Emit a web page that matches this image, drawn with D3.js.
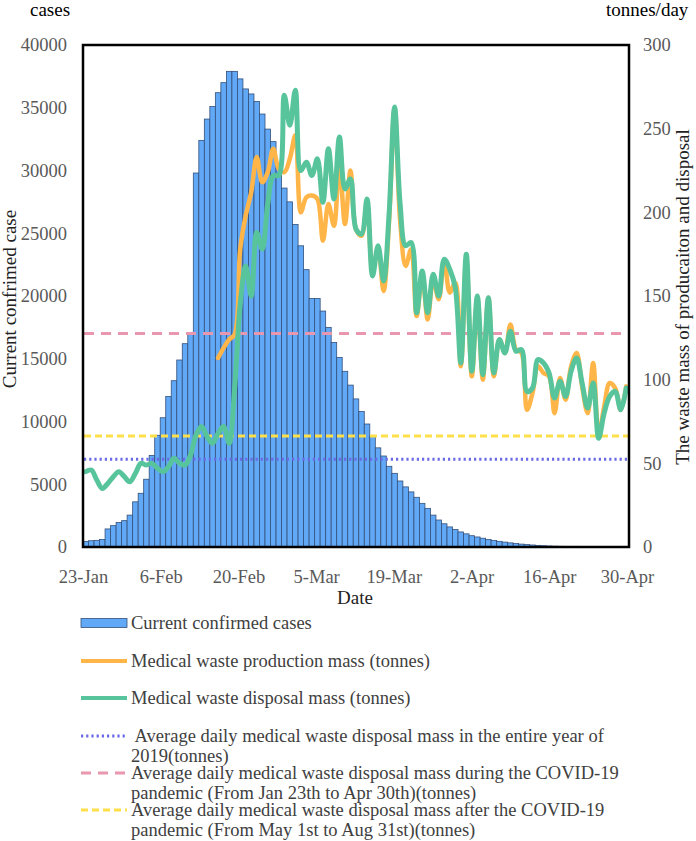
<!DOCTYPE html>
<html>
<head>
<meta charset="utf-8">
<script src="https://cdn.jsdelivr.net/npm/d3@7"></script>
<style>
  html, body { margin: 0; padding: 0; background: #fff; }
  svg { display: block; }
  text { font-family: "Liberation Serif", "Times New Roman", serif; }
</style>
</head>
<body>
<div id="chart"></div>
<script>
// ---------------- DATA ----------------
const startDate = new Date(2020, 0, 23);
const dates = d3.timeDay.range(startDate, new Date(2020, 4, 1)); // 23-Jan .. 30-Apr (99 days)

const currentCases = [
  440, 500, 530, 600, 1440, 1700, 1950, 2100, 2540, 3600,
  4280, 5400, 7300, 8900, 10300, 12000, 13250, 14900, 16200, 17060,
  29800, 32400, 34100, 35100, 36200, 37000, 37900, 37900, 37300, 36500,
  36100, 35500, 34500, 33300, 32300, 30200, 28600, 27500, 25700, 24000,
  22100, 19800, 19800, 18800, 17500, 16300, 15100, 14000, 12900, 11800,
  10800, 9800, 8800, 7900, 7250, 6430, 5870, 5260, 4790, 4390,
  3960, 3480, 3080, 2540, 2150, 1850, 1600, 1400, 1200, 1050,
  900, 800, 700, 600, 520, 450, 390, 330, 280, 230,
  190, 160, 130, 100, 80, 65, 55, 50, 50, 50,
  47, 45, 40, 30, 25, 15, 5, 0, 0
];

const productionMass = [
  null, null, null, null, null, null, null, null, null, null,
  null, null, null, null, null, null, null, null, null, null,
  null, null, null, null, 113, 119, 124, 127, 178, 198,
  212, 233, 218, 224, 238, 226, 224, 232, 246, 200,
  209, 210, 208, 183, 205, 192, 229, 193, 225, 190,
  186, 205, 166, 178, 153, 195, 262, 195, 168, 178,
  138, 163, 136, 160, 148, 172, 152, 158, 108, 172,
  102, 148, 100, 149, 102, 124, 116, 133, 118, 116,
  82, 92, 108, 104, 102, 80, 101, 88, 108, 116,
  96, 80, 110, 67, 84, 98, 95, 82, 96
];

const disposalMass = [
  45, 46, 40, 35, 38, 42, 45, 42, 39, 44,
  50, 49, 50, 47, 45, 48, 53, 50, 49, 55,
  67, 72, 66, 62, 68, 72, 62, 95, 145, 168,
  150, 188, 178, 205, 222, 222, 270, 252, 273, 225,
  230, 222, 232, 206, 238, 208, 245, 214, 220, 190,
  187, 208, 162, 180, 159, 199, 263, 205, 180, 182,
  140, 165, 140, 163, 150, 172, 166, 155, 110, 175,
  105, 150, 103, 149, 104, 124, 116, 129, 117, 118,
  93, 95, 112, 110, 104, 89, 99, 90, 105, 113,
  98, 83, 98, 65, 80, 90, 93, 82, 95
];

const avg2019 = 52.4;
const avgDuring = 127.6;
const avgAfter = 66.3;

const leftTicks = [0, 5000, 10000, 15000, 20000, 25000, 30000, 35000, 40000];
const rightTicks = [0, 50, 100, 150, 200, 250, 300];
const xTickDays = [0, 14, 28, 42, 56, 70, 84, 98];
const xTickLabels = ["23-Jan", "6-Feb", "20-Feb", "5-Mar", "19-Mar", "2-Apr", "16-Apr", "30-Apr"];

const legendItems = [
  { type: "bar", lines: ["Current confirmed cases"] },
  { type: "prod", lines: ["Medical waste production mass (tonnes)"] },
  { type: "disp", lines: ["Medical waste disposal mass (tonnes)"] },
  { type: "avg2019", lines: [" Average daily medical waste disposal mass in the entire year of", "2019(tonnes)"] },
  { type: "during", lines: ["Average daily medical waste disposal mass during the COVID-19", "pandemic (From Jan 23th to Apr 30th)(tonnes)"] },
  { type: "after", lines: ["Average daily medical waste disposal mass after the COVID-19", "pandemic (From May 1st to Aug 31st)(tonnes)"] }
];

// ---------------- STYLE ----------------
const W = 696, H = 841;
const plot = { left: 83, right: 629, top: 45, bottom: 547 };
const C = {
  bar: "#61A8F6", barStroke: "#34507a",
  prod: "#FFB547", disp: "#58C49C",
  avg2019: "#6A6AE6", during: "#E897AF", after: "#FFE04A",
  tick: "#595959", text: "#404040"
};
const styles = {
  avg2019: { color: C.avg2019, dash: "2.2,3", width: 3 },
  during: { color: C.during, dash: "10,7", width: 3 },
  after: { color: C.after, dash: "7,4", width: 3 }
};

// ---------------- CHART ----------------
const svg = d3.select("#chart").append("svg").attr("width", W).attr("height", H);

const x = d3.scaleBand().domain(d3.range(dates.length)).range([plot.left, plot.right]).padding(0);
const xt = d3.scaleLinear().domain([0, dates.length - 1]).range([83, 627]);
const yL = d3.scaleLinear().domain([0, 40000]).range([plot.bottom, plot.top]);
const yR = d3.scaleLinear().domain([0, 300]).range([plot.bottom, plot.top]);

// bars
svg.append("g").selectAll("rect").data(currentCases).join("rect")
  .attr("x", (d, i) => x(i))
  .attr("y", d => yL(d))
  .attr("width", x.bandwidth())
  .attr("height", d => plot.bottom - yL(d))
  .attr("fill", C.bar)
  .attr("stroke", C.barStroke)
  .attr("stroke-width", 0.8);

// reference lines
const refs = [["avg2019", avg2019], ["during", avgDuring], ["after", avgAfter]];
svg.append("g").selectAll("line").data(refs).join("line")
  .attr("x1", plot.left + 1).attr("x2", plot.right - 1)
  .attr("y1", d => yR(d[1])).attr("y2", d => yR(d[1]))
  .attr("stroke", d => styles[d[0]].color)
  .attr("stroke-width", d => styles[d[0]].width)
  .attr("stroke-dasharray", d => styles[d[0]].dash);

// lines
const lineGen = d3.line()
  .defined(d => d != null)
  .x((d, i) => x(i) + x.bandwidth() / 2)
  .y(d => yR(d))
  .curve(d3.curveCatmullRom.alpha(0.5));

svg.append("path").datum(productionMass)
  .attr("d", lineGen).attr("fill", "none")
  .attr("stroke", C.prod).attr("stroke-width", 4.5)
  .attr("stroke-linejoin", "round").attr("stroke-linecap", "round");

svg.append("path").datum(disposalMass)
  .attr("d", lineGen).attr("fill", "none")
  .attr("stroke", C.disp).attr("stroke-width", 5)
  .attr("stroke-linejoin", "round").attr("stroke-linecap", "round");

// frame
svg.append("rect")
  .attr("x", plot.left).attr("y", plot.top)
  .attr("width", plot.right - plot.left).attr("height", plot.bottom - plot.top)
  .attr("fill", "none").attr("stroke", "#000").attr("stroke-width", 2.5);

// axes
function styleAxis(g) {
  g.select(".domain").remove();
  g.selectAll("text")
    .attr("fill", C.tick)
    .style("font-family", '"Liberation Serif", serif')
    .style("font-size", "18.5px");
}
svg.append("g").attr("transform", `translate(${plot.left},0)`)
  .call(d3.axisLeft(yL).tickValues(leftTicks).tickSize(0).tickPadding(16).tickFormat(d3.format("d")))
  .call(styleAxis);
svg.append("g").attr("transform", `translate(${plot.right},0)`)
  .call(d3.axisRight(yR).tickValues(rightTicks).tickSize(0).tickPadding(14).tickFormat(d3.format("d")))
  .call(styleAxis);
svg.append("g").attr("transform", `translate(0,${plot.bottom})`)
  .call(d3.axisBottom(xt).tickValues(xTickDays).tickSize(0).tickPadding(23)
    .tickFormat((d, i) => xTickLabels[i]))
  .call(styleAxis);

// titles
svg.append("text").attr("x", 30).attr("y", 16).attr("font-size", 19).attr("fill", "#000").text("cases");
svg.append("text").attr("x", 606).attr("y", 16).attr("font-size", 19).attr("fill", "#000").text("tonnes/day");
svg.append("text").attr("x", 355).attr("y", 604).attr("text-anchor", "middle")
  .attr("font-size", 19).attr("fill", "#222").text("Date");
svg.append("text").attr("transform", "translate(16,299) rotate(-90)").attr("text-anchor", "middle")
  .attr("font-size", 19).attr("fill", "#222").text("Current confrimed case");
svg.append("text").attr("transform", "translate(689,297) rotate(-90)").attr("text-anchor", "middle")
  .attr("font-size", 19).attr("fill", "#222").text("The waste mass of producaiton and disposal");

// legend
const legRows = [623, 661, 698, 736, 773, 810];
const lg = svg.append("g");
legendItems.forEach((item, k) => {
  const cy = legRows[k];
  if (item.type === "bar") {
    lg.append("rect").attr("x", 81).attr("y", cy - 4.5).attr("width", 46).attr("height", 9)
      .attr("fill", C.bar).attr("stroke", C.barStroke).attr("stroke-width", 0.8);
  } else if (item.type === "prod" || item.type === "disp") {
    lg.append("line").attr("x1", 81).attr("x2", 127).attr("y1", cy).attr("y2", cy)
      .attr("stroke", C[item.type]).attr("stroke-width", 4);
  } else {
    const s = styles[item.type];
    lg.append("line").attr("x1", 81).attr("x2", 127).attr("y1", cy).attr("y2", cy)
      .attr("stroke", s.color).attr("stroke-width", s.width).attr("stroke-dasharray", s.dash);
  }
  item.lines.forEach((t, j) => {
    lg.append("text").attr("x", 131).attr("y", cy + 6 + j * 19.5)
      .attr("font-size", 18.5).attr("fill", C.text)
      .attr("xml:space", "preserve")
      .text(t);
  });
});
</script>
</body>
</html>
